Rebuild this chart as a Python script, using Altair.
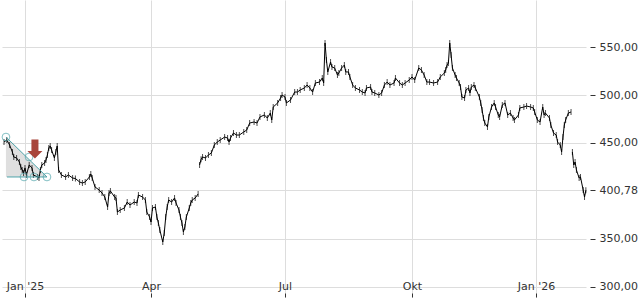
import altair as alt
import pandas as pd

# x values: days since 2025-01-01 (trading dates), y: share price
days = [
    -15, -13, -11, -9, -8, -6, -4, -3, -2, -1, 0, 1, 3, 5, 6, 9, 10, 11, 12, 14,
    15, 16, 17, 18, 19, 21, 22, 23, 24, 26, 29, 31, 34, 36, 39, 41, 43, 46, 47, 48,
    50, 53, 55, 57, 59, 60, 61, 64, 65, 66, 68, 71, 73, 75, 78, 80, 81, 84, 86, 87,
    89, 90, 91, 93, 94, 95, 96, 98, 99, 100, 101, 102, 104, 106, 107, 109, 110, 111, 112, 113,
    114, 116, 117, 118, 120, 122, 123, 124, 125, 127, 129, 131, 133, 135, 137, 140, 142, 143, 144, 146,
    148, 150, 153, 155, 157, 160, 162, 164, 167, 169, 171, 172, 173, 176, 178, 179, 181, 182, 185, 188,
    190, 192, 195, 197, 199, 201, 203, 206, 208, 209, 210, 211, 212, 214, 215, 217, 219, 220, 222, 224,
    225, 227, 228, 230, 232, 235, 237, 239, 240, 243, 244, 246, 249, 251, 253, 255, 257, 260, 261, 264,
    266, 268, 271, 273, 275, 278, 280, 282, 284, 286, 289, 292, 294, 297, 298, 299, 300, 301, 302, 303,
    305, 306, 308, 309, 310, 312, 313, 315, 316, 317, 319, 320, 323, 324, 325, 326, 327, 329, 330, 332,
    334, 335, 337, 338, 340, 342, 344, 346, 348, 349, 352, 353, 356, 358, 361, 363, 364, 366, 368, 370,
    371, 372, 375, 376, 378, 380, 381, 383, 384, 385, 386, 387, 389, 391, 392, 393, 394, 395, 397, 398,
    400, 401, 402,
]
close = [
    451.0, 453.1, 447.9, 440.6, 435.4, 434.4, 430.2, 425.0, 421.9, 418.7, 424.0, 416.7, 427.1, 424.0, 416.7, 414.6, 413.5, 421.9, 427.1, 429.2,
    432.3, 437.5, 444.8, 446.9, 442.7, 434.4, 440.6, 446.9, 421.9, 416.7, 414.6, 416.7, 413.5, 413.0, 409.4, 408.3, 409.4, 414.6, 417.7, 413.5,
    404.2, 401.0, 397.9, 393.7, 383.3, 397.9, 400.0, 393.7, 392.7, 378.1, 380.2, 382.3, 388.5, 385.4, 388.5, 387.5, 395.8, 393.7, 390.6, 378.1,
    372.9, 367.7, 382.3, 383.3, 372.9, 366.7, 359.4, 346.9, 356.2, 372.9, 383.3, 390.6, 388.5, 392.7, 387.5, 380.2, 372.9, 366.7, 357.3, 362.5,
    372.9, 382.3, 387.5, 390.6, 392.7, 396.9, 427.1, 433.0, 435.4, 434.4, 437.5, 439.6, 447.9, 451.0, 453.1, 456.2, 455.2, 451.0, 455.2, 460.4,
    458.3, 458.3, 461.5, 463.5, 470.8, 471.9, 470.8, 477.1, 479.2, 476.0, 481.2, 474.0, 487.5, 491.7, 496.9, 500.0, 497.9, 491.7, 494.8, 503.1,
    503.1, 505.2, 507.3, 510.4, 507.3, 503.1, 512.5, 513.5, 517.7, 512.5, 554.2, 536.5, 524.0, 534.4, 529.2, 528.1, 520.8, 522.9, 528.1, 531.2,
    524.0, 524.0, 518.8, 510.4, 507.3, 505.2, 503.1, 502.1, 507.3, 508.3, 503.1, 502.1, 500.0, 502.1, 510.4, 513.5, 510.4, 512.5, 517.7, 512.5,
    510.4, 512.5, 515.6, 518.8, 515.6, 528.1, 526.0, 520.8, 513.5, 513.5, 512.5, 513.5, 518.8, 522.9, 526.0, 531.2, 533.3, 554.2, 541.7, 528.1,
    520.8, 517.7, 512.5, 508.3, 497.9, 496.9, 505.2, 507.3, 502.1, 508.3, 510.4, 507.3, 497.9, 491.7, 484.4, 476.0, 470.8, 466.7, 477.1, 487.5,
    491.7, 487.5, 479.2, 477.1, 489.6, 491.7, 479.2, 481.2, 476.0, 474.0, 479.2, 486.5, 487.5, 488.5, 487.5, 486.5, 482.3, 474.0, 471.9, 487.5,
    479.2, 481.2, 476.0, 468.7, 460.4, 458.3, 451.0, 447.9, 440.6, 456.2, 468.7, 474.0, 481.2, 482.3, 440.6, 427.1, 430.2, 421.9, 413.5, 414.6,
    401.0, 393.7, 400.78,
]
# price gaps: the series is not joined across these days
gap_after = [122, 391]

tick_days = [0, 90, 181, 273, 365]
tick_labels = ["Jan '25", "Apr", "Jul", "Okt", "Jan '26"]
y_ticks = [300, 350, 400.78, 450, 500, 550]

# descending-triangle annotation
tri_days = [-13.6, 15.7]
tri_top = [456.2, 414.6]
tri_base = 414.6
line_seg = ["diag", "diag", "base", "base"]
line_days = [-13.6, 15.7, -12.9, 15.7]
line_vals = [456.2, 414.6, 414.6, 414.6]
touch_days = [-13.6, 2.9, -0.7, 6.4, 15.7]
touch_vals = [456.2, 435.4, 414.6, 414.6, 414.6]
arrow_day = [7.1]
arrow_val = [443.7]

segment = [sum(d > g for g in gap_after) for d in days]
price = pd.DataFrame({"t": days, "v": close, "seg": segment})
tri = pd.DataFrame({"t": tri_days, "v": tri_top, "v2": [tri_base] * 2})
lines = pd.DataFrame({"t": line_days, "v": line_vals, "seg": line_seg})
touch = pd.DataFrame({"t": touch_days, "v": touch_vals})
arrow = pd.DataFrame({"t": arrow_day, "v": arrow_val})

W, H = 584, 297

x_scale = alt.Scale(
    type="linear",
    domain=[-16.43, 0, 90, 181, 273, 365, 402.1],
    range=[0, 23, 149, 283, 410, 534, W],
    nice=False, zero=False,
)
y_scale = alt.Scale(domain=[289.58, 598.96], nice=False, zero=False)

label_expr = " : ".join(
    f"datum.value == {d} ? \"{lbl}\"" for d, lbl in zip(tick_days, tick_labels)
) + " : ''"

x_axis = alt.Axis(
    orient="top", offset=-H, values=tick_days, labelExpr=label_expr,
    grid=True, gridColor="#dddddd", domain=False, tickColor="#333333", tickSize=4,
    labelPadding=2, labelFont="DejaVu Sans", labelFontSize=11, labelColor="#333333",
    title=None, labelFlush=False, labelOverlap=False,
)
y_axis = alt.Axis(
    orient="right", values=y_ticks,
    labelExpr="replace(format(datum.value, '.2f'), '.', ',')",
    offset=4, tickSize=5, labelPadding=4, domain=False, grid=True, gridColor="#dddddd",
    tickColor="#333333", labelColor="#333333", labelFont="DejaVu Sans", labelFontSize=11,
    title=None, labelFlush=False, labelOverlap=False,
)

X = alt.X("t:Q", scale=x_scale, axis=x_axis)
Xn = alt.X("t:Q", scale=x_scale)
Y = alt.Y("v:Q", scale=y_scale, axis=y_axis)
Yn = alt.Y("v:Q", scale=y_scale)

teal = "#4fa5ab"

tri_layer = alt.Chart(tri).mark_area(color="#d9d9d9", opacity=0.85).encode(
    x=X, y=Y, y2="v2:Q"
)
price_layer = alt.Chart(price).mark_line(color="black", strokeWidth=1).encode(
    x=Xn, y=Yn, detail="seg:N"
)
bar_layer = alt.Chart(price).mark_tick(
    orient="vertical", color="black", size=6, thickness=1
).encode(x=Xn, y=Yn)
line_layer = alt.Chart(lines).mark_line(color=teal, strokeWidth=1).encode(
    x=Xn, y=Yn, detail="seg:N"
)
touch_layer = alt.Chart(touch).mark_point(
    shape="circle", filled=False, color=teal, size=60, strokeWidth=1
).encode(x=Xn, y=Yn)
arrow_path = "M-0.37,-1L0.37,-1L0.37,0.2L0.79,0.2L0,1L-0.79,0.2L-0.37,0.2Z"
arrow_layer = alt.Chart(arrow).mark_point(
    shape=arrow_path, filled=True, color="#a8453b", size=361, strokeWidth=0, opacity=1
).encode(x=Xn, y=Yn)

chart = alt.layer(
    tri_layer, price_layer, bar_layer, line_layer, touch_layer, arrow_layer
).properties(
    width=W, height=H, padding={"left": 0, "top": 0, "right": 0, "bottom": 0},
    background="white",
).configure_view(stroke=None)

chart.save("out.html", embed_options={"renderer": "svg", "actions": False})
